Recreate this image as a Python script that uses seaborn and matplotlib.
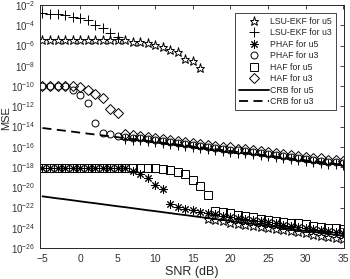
import numpy as np
import pandas as pd
import matplotlib
matplotlib.use("Agg")
import matplotlib.pyplot as plt
import seaborn as sns
from matplotlib.ticker import LogLocator, LogFormatterSciNotation, NullLocator

# ─────────────────────────────────────────────
# DATA (log10 of MSE)
# ─────────────────────────────────────────────
snr = list(range(-5, 36))

# LSU-EKF for u5 (stars)
lsu_u5 = [-5.45, -5.46, -5.44, -5.46, -5.45, -5.46, -5.44, -5.46, -5.45, -5.44,
          -5.46, -5.46, -5.63, -5.69, -5.79, -5.95, -6.12, -6.44, -6.67, -7.36,
          -7.50, -8.25, -23.15, -23.27, -23.38, -23.49, -23.60, -23.70, -23.81, -23.92,
          -24.03, -24.13, -24.24, -24.35, -24.46, -24.56, -24.67, -24.78, -24.89, -24.99,
          -25.10]
# LSU-EKF for u3 (plus)
lsu_u3 = [-2.82, -2.89, -2.89, -2.99, -3.16, -3.32, -3.49, -3.98, -4.31, -4.80,
          -5.20, -15.20, -15.29, -15.38, -15.47, -15.57, -15.66, -15.75, -15.84, -15.93,
          -16.02, -16.11, -16.20, -16.29, -16.38, -16.48, -16.57, -16.66, -16.75, -16.84,
          -16.93, -17.02, -17.11, -17.20, -17.29, -17.39, -17.48, -17.57, -17.66, -17.75,
          -17.84]
# PHAF for u5 (asterisk)
phaf_u5 = [-18.10, -18.08, -18.10, -18.09, -18.10, -18.08, -18.10, -18.09, -18.10, -18.08,
           -18.10, -18.12, -18.40, -18.66, -19.06, -19.80, -20.15, -21.70, -21.97, -22.13,
           -22.25, -22.40, -22.55, -22.68, -22.86, -22.96, -23.06, -23.16, -23.26, -23.37,
           -23.47, -23.57, -23.68, -23.78, -23.88, -23.99, -24.09, -24.19, -24.30, -24.40,
           -24.52]
# PHAF for u3 (circle)
phaf_u3 = [-10.02, -10.00, -10.03, -10.00, -10.35, -10.90, -11.65, -13.70, -14.60, -14.77,
           -14.94, -15.00, -15.09, -15.18, -15.27, -15.37, -15.46, -15.55, -15.64, -15.73,
           -15.82, -15.91, -16.00, -16.09, -16.18, -16.28, -16.37, -16.46, -16.55, -16.64,
           -16.73, -16.82, -16.91, -17.00, -17.09, -17.19, -17.28, -17.37, -17.46, -17.55,
           -17.64]
# HAF for u5 (square)
haf_u5 = [-18.08, -18.07, -18.08, -18.07, -18.08, -18.07, -18.08, -18.07, -18.08, -18.07,
          -18.08, -18.07, -18.07, -18.07, -18.07, -18.10, -18.15, -18.25, -18.50, -18.70,
          -19.26, -19.90, -20.80, -22.30, -22.47, -22.57, -22.70, -22.82, -22.96, -23.12,
          -23.22, -23.29, -23.39, -23.49, -23.56, -23.62, -23.80, -23.90, -24.00, -24.07,
          -24.13]
# HAF for u3 (diamond)
haf_u3 = [-10.02, -10.00, -10.03, -10.00, -10.02, -10.05, -10.40, -10.80, -11.15, -12.30,
          -12.70, -14.75, -14.88, -14.97, -15.08, -15.15, -15.27, -15.35, -15.45, -15.52,
          -15.63, -15.70, -15.81, -15.88, -15.99, -16.07, -16.18, -16.25, -16.36, -16.43,
          -16.54, -16.61, -16.72, -16.79, -16.90, -16.98, -17.09, -17.16, -17.27, -17.34,
          -17.45]
# CRB curves
crb_u5 = [-20.90, -21.00, -21.10, -21.19, -21.29, -21.39, -21.49, -21.58, -21.68, -21.78,
          -21.88, -21.97, -22.07, -22.17, -22.27, -22.36, -22.46, -22.56, -22.66, -22.75,
          -22.85, -22.95, -23.05, -23.14, -23.24, -23.34, -23.44, -23.53, -23.63, -23.73,
          -23.83, -23.92, -24.02, -24.12, -24.22, -24.31, -24.41, -24.51, -24.61, -24.70,
          -24.80]
crb_u3 = [-14.15, -14.24, -14.33, -14.42, -14.51, -14.61, -14.70, -14.79, -14.88, -14.97,
          -15.06, -15.15, -15.24, -15.33, -15.42, -15.52, -15.61, -15.70, -15.79, -15.88,
          -15.97, -16.06, -16.15, -16.24, -16.33, -16.43, -16.52, -16.61, -16.70, -16.79,
          -16.88, -16.97, -17.06, -17.15, -17.24, -17.34, -17.43, -17.52, -17.61, -17.70,
          -17.79]

labels = ["LSU-EKF for u5", "LSU-EKF for u3", "PHAF for u5", "PHAF for u3",
          "HAF for u5", "HAF for u3", "CRB for u5", "CRB for u3"]

df = pd.DataFrame({"snr": snr,
                   "lsu_u5": lsu_u5, "lsu_u3": lsu_u3,
                   "phaf_u5": phaf_u5, "phaf_u3": phaf_u3,
                   "haf_u5": haf_u5, "haf_u3": haf_u3,
                   "crb_u5": crb_u5, "crb_u3": crb_u3})
for c in df.columns[1:]:
    df[c] = 10.0 ** df[c]

# ─────────────────────────────────────────────
# PLOT
# ─────────────────────────────────────────────
sns.set_style("white")
plt.rcParams["font.family"] = ["Liberation Sans", "DejaVu Sans"]
plt.rcParams["mathtext.fontset"] = "custom"
plt.rcParams["mathtext.rm"] = "Liberation Sans"
plt.rcParams["mathtext.it"] = "Liberation Sans:italic"

fig = plt.figure(figsize=(3.5, 2.79), dpi=100)
ax = fig.add_axes([40 / 350, 31 / 279, 304 / 350, 243 / 279])

styles = [
    ("lsu_u5", "*", 6.5),
    ("lsu_u3", "+", 7.5),
    ("phaf_u5", (8, 2, 0), 6),
    ("phaf_u3", "o", 5),
    ("haf_u5", "s", 5.5),
    ("haf_u3", "D", 5.5),
]
for (col, mk, ms), lab in zip(styles, labels[:6]):
    sns.lineplot(data=df, x="snr", y=col, ax=ax, marker=mk, markersize=ms,
                 linestyle="", color="k", mfc="none", mec="k", mew=0.7, label=lab)

sns.lineplot(data=df, x="snr", y="crb_u5", ax=ax, color="k", lw=1.3,
             linestyle="-", label=labels[6])
sns.lineplot(data=df, x="snr", y="crb_u3", ax=ax, color="k", lw=1.3,
             linestyle=(0, (5, 3)), label=labels[7])

ax.set_yscale("log")
ax.set_xlim(-5.33, 35.1)
ax.set_ylim(1e-26, 1e-2)
ax.set_xticks(range(-5, 36, 5))
ax.yaxis.set_major_locator(LogLocator(base=100.0, numticks=20))
ax.yaxis.set_major_formatter(LogFormatterSciNotation(base=10))
ax.yaxis.set_minor_locator(NullLocator())
ax.tick_params(direction="in", length=3, width=0.6, labelsize=7.5, colors="#262626",
               top=True, right=True, labelcolor="#333333", pad=4)
ax.tick_params(axis="y", labelsize=7, pad=3.5)
for sp in ax.spines.values():
    sp.set_linewidth(0.7)
    sp.set_color("#262626")

ax.set_xlabel("SNR (dB)", fontsize=9, color="#262626", labelpad=2)
ax.set_ylabel("MSE", fontsize=8, color="#262626")
ax.yaxis.set_label_coords(-0.094, 0.535)

leg = ax.legend(loc="upper right", bbox_to_anchor=(0.974, 0.967), fontsize=6.3,
                frameon=True, fancybox=False, edgecolor="#262626", framealpha=1,
                labelspacing=0.28, handlelength=3.4, handletextpad=0.2,
                borderpad=0.45, borderaxespad=0, numpoints=1)
leg.get_frame().set_linewidth(0.6)

fig.savefig("out.png", dpi=100)
